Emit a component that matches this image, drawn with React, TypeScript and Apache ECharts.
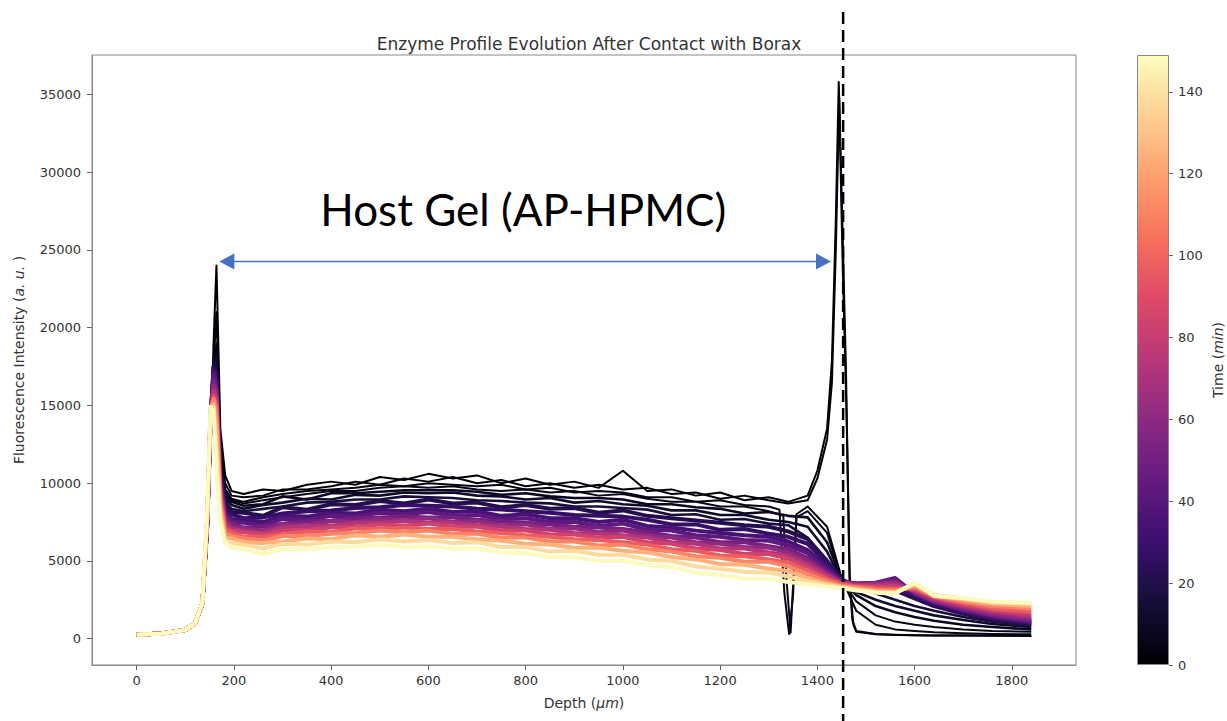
import React, { useEffect, useRef } from 'react';
import * as echarts from 'echarts';

// Depth grid (µm) shared by all profiles
const DEPTH = [0, 50, 100, 120, 135, 145, 152, 158, 164, 172, 182,
  195, 220, 260, 300, 350, 400, 450, 500, 550, 600, 650, 700, 750, 800, 850, 900, 950, 1000, 1050, 1100, 1150, 1200, 1250, 1300, 1340,
  1380, 1420, 1450, 1480, 1520, 1560, 1600, 1640, 1700, 1760, 1840];

// Time of each profile (min)
const TIMES = [0, 2, 4, 6, 9, 12, 16, 21, 27, 34, 42, 51, 61, 72, 84, 97, 111, 125, 138, 148];

const P_T0 = [230,300,520,950,2000,6500,12500,19000,24000,13500,10500, 9500,9300,9600,9500,9900,10100,9900,10400,10200,10600,10300,10500,10000,10300,9900,10100,9700,10800,9500,9600,9200,9400,8900,9100,8800, 9200,13500,28500,500,300,250,220,200,200,190,180];
const P_T2 = [240,310,530,960,2050,6500,12500,17500,21000,12500,10000, 9200,9100,9200,9600,9600,9800,10100,9900,10300,10100,10400,10000,10200,9800,10000,9700,9900,9600,9700,9300,9400,9000,9200,8900,8700, 8900,12800,27000,450,280,240,220,210,200,200,190];
const P_T4 = [250,320,540,980,2100,6800,13000,17500,19000,12000,9600, 9000,8800,9100,9300,9500,9600,9700,9900,9800,10000,9900,9800,9900,9600,9700,9400,9500,9400,9100,9100,8800,8900,8600,8500,800, 8500,7200,3900,1800,900,600,500,420,350,300,280];
const P_T6 = [240,320,540,970,2100,6800,13500,17800,18500,11800,9400, 8900,8700,8900,9100,9300,9500,9500,9700,9800,9700,9800,9600,9500,9600,9400,9500,9200,9300,9000,8800,8800,8500,8500,8200,2400, 8200,6800,3800,2400,1500,1100,900,750,600,500,450];
const P_T9 = [250,330,550,990,2150,7000,13500,18000,18300,11500,9200, 8800,8550,8650,9150,8950,9350,9350,9450,9550,9550,9550,9450,9250,9350,9150,9050,9050,8950,8650,8650,8450,8350,8050,8150,7900, 7800,6200,3800,2800,2100,1700,1400,1150,900,750,600];
const P_T12 = [250,330,550,1000,2200,7000,13800,18000,17800,11300,9000, 8600,8350,8600,8750,9000,8950,9250,9200,9400,9350,9400,9200,9150,8950,9050,8750,8850,8650,8550,8250,8250,7950,7950,7650,7500, 7200,5600,3700,3000,2500,2100,1800,1500,1200,950,750];
const P_T16 = [250,330,550,1000,2200,7100,14000,17800,17500,11000,8800, 8350,8200,8350,8500,8750,8800,8950,8950,9150,9100,9050,8900,8850,8750,8700,8500,8500,8400,8300,7950,8000,7650,7700,7400,7300, 6500,5000,3700,3300,2900,2500,2100,1800,1400,1100,850];
const P_T21 = [250,330,560,1000,2250,7200,14000,17500,17200,10800,8600, 8150,8100,7900,8450,8300,8650,8600,8850,8700,8950,8700,8750,8450,8600,8350,8400,8100,8250,7900,7750,7600,7450,7300,7200,6900, 6400,5000,3800,3400,3300,3100,2600,2100,1600,1250,900];
const P_T27 = [250,330,560,1000,2250,7300,14200,17300,16800,10500,8300, 8000,7750,7800,8050,8200,8250,8400,8450,8600,8550,8500,8350,8300,8200,8100,7950,7900,7850,7650,7350,7350,7000,7050,6750,6550, 6100,4850,3750,3450,3450,3300,2750,2200,1700,1300,1000];
const P_T34 = [250,330,560,1000,2250,7300,14300,17200,16500,10300,8100, 7700,7650,7500,7900,7850,8100,8050,8300,8200,8350,8150,8200,7900,8000,7750,7750,7500,7650,7250,7150,6950,6800,6650,6550,6250, 5700,4600,3700,3500,3550,3500,2850,2300,1800,1400,1050];
const P_T42 = [250,330,560,1000,2250,7400,14300,17000,16300,10100,8000, 7550,7450,7300,7700,7650,7900,7850,8100,8000,8150,7900,7950,7700,7750,7500,7500,7250,7400,7000,6950,6650,6550,6350,6300,6000, 5500,4450,3700,3550,3600,3900,2900,2350,1850,1450,1100];
const P_T51 = [250,330,560,1000,2250,7400,14400,16600,16000,9900,7800, 7450,7150,7200,7400,7550,7600,7750,7800,7850,7800,7800,7650,7550,7450,7350,7200,7150,7050,6850,6600,6500,6200,6200,5950,5750, 5200,4300,3650,3550,3600,3750,2950,2400,1900,1500,1200];
const P_T61 = [250,330,560,1000,2250,7400,14400,16300,15800,9700,7600, 7200,7100,6950,7350,7300,7550,7500,7700,7600,7750,7500,7550,7300,7350,7050,7100,6850,6950,6600,6500,6200,6100,5900,5850,5550, 5000,4200,3650,3500,3550,3650,3000,2450,2000,1600,1300];
const P_T72 = [250,330,560,1000,2250,7500,14500,16000,15500,9500,7400, 7050,6950,6800,7150,7250,7250,7450,7450,7550,7450,7450,7300,7200,7050,7000,6800,6750,6650,6500,6200,6100,5800,5800,5550,5350, 4800,4100,3600,3450,3450,3500,3100,2550,2100,1750,1450];
const P_T84 = [250,330,560,1000,2250,7500,14600,15700,15200,9300,7200, 6950,6850,6700,6950,7000,7150,7200,7350,7250,7400,7200,7200,6950,6950,6700,6700,6500,6550,6200,6100,5800,5700,5450,5450,5150, 4600,3950,3550,3400,3350,3350,3150,2650,2200,1850,1600];
const P_T97 = [250,330,560,1000,2250,7600,14700,15500,15000,9000,7000, 6850,6550,6550,6700,6900,6850,7100,7050,7150,7050,7050,6900,6800,6650,6550,6400,6350,6200,6050,5750,5650,5350,5300,5100,4900, 4400,3850,3500,3350,3250,3200,3250,2700,2300,1950,1750];
const P_T111 = [250,330,560,1000,2250,7700,14800,15400,14500,8700,6800, 6600,6450,6300,6600,6600,6750,6800,6950,6850,6950,6750,6750,6500,6500,6250,6250,6000,6050,5750,5600,5300,5200,4950,4950,4650, 4150,3700,3400,3300,3150,3100,3350,2750,2400,2100,1950];
const P_T125 = [250,330,560,1000,2250,7800,14800,15100,13500,8300,6500, 6450,6200,6150,6250,6450,6400,6650,6550,6700,6550,6550,6400,6300,6100,6050,5850,5850,5650,5550,5250,5100,4800,4750,4500,4350, 3900,3550,3350,3200,3050,3000,3450,2800,2500,2250,2100];
const P_T138 = [250,330,560,1000,2250,8000,14900,14900,12000,7800,6200, 6150,6050,5800,6100,6050,6250,6200,6400,6250,6350,6150,6200,5900,5900,5600,5650,5400,5400,5100,5000,4650,4500,4300,4250,4000, 3700,3450,3300,3150,3000,2950,3550,2800,2600,2350,2250];
const P_T148 = [250,320,560,1000,2300,8200,14900,14600,11000,7500,6200, 5850,5750,5450,5750,5750,5900,5900,6050,5900,5950,5800,5800,5550,5500,5250,5250,5000,5000,4750,4600,4250,4100,3850,3850,3650, 3500,3350,3250,3100,2950,2900,3600,2750,2600,2400,2300];

// Extra [depth, value] points of the early profiles (interface peak and dips)
const EXTRA_T0 = [[1400,10800],[1430,17900],[1438,27000],[1444,35800],[1452,26000],[1459,17000],[1466,4000],[1472,1200]];
const EXTRA_T2 = [[1400,10300],[1430,16500],[1438,25000],[1445,34800],[1453,23000],[1460,14500],[1467,3500],[1474,900]];
const EXTRA_T4 = [[1322,8300],[1332,3000],[1342,300],[1350,2800],[1357,8000]];
const EXTRA_T6 = [[1330,7900],[1337,3600],[1345,400],[1351,4000],[1357,7800]];

const PROFILES = [P_T0, P_T2, P_T4, P_T6, P_T9, P_T12, P_T16, P_T21, P_T27, P_T34, P_T42, P_T51, P_T61, P_T72, P_T84, P_T97, P_T111, P_T125, P_T138, P_T148];
const EXTRAS: number[][][] = [EXTRA_T0, EXTRA_T2, EXTRA_T4, EXTRA_T6];

const X_TICKS = [0, 200, 400, 600, 800, 1000, 1200, 1400, 1600, 1800];
const Y_TICKS = [0, 5000, 10000, 15000, 20000, 25000, 30000, 35000];
const TIME_TICKS = [0, 20, 40, 60, 80, 100, 120, 140];
const TIME_MAX = 149;

// Annotations (data coordinates)
const GEL_LABEL = 'Host Gel (AP-HPMC)';
const GEL_LABEL_POS = [795, 27600];
const ARROW_Y = 24260;
const ARROW_X = [170, 1428];
const BORDER_DEPTH = 1453;

const MAGMA = ['#000004', '#140e36', '#3b0f70', '#641a80', '#8c2981', '#b73779', '#de4968', '#f7705c', '#fe9f6d', '#fecf92', '#fcfdbf'];

function hexToRgb(h: string) {
  return [parseInt(h.slice(1, 3), 16), parseInt(h.slice(3, 5), 16), parseInt(h.slice(5, 7), 16)];
}
function magma(v: number) {
  const x = Math.max(0, Math.min(1, v)) * (MAGMA.length - 1);
  const i = Math.min(MAGMA.length - 2, Math.floor(x));
  const f = x - i;
  const a = hexToRgb(MAGMA[i]);
  const b = hexToRgb(MAGMA[i + 1]);
  const c = a.map((av, k) => Math.round(av + (b[k] - av) * f));
  return `rgb(${c[0]},${c[1]},${c[2]})`;
}

const FONT = 'DejaVu Sans';
const TXT = '#333';
const plain = (v: number) => String(v);

export default function App() {
  const ref = useRef<HTMLDivElement>(null);
  useEffect(() => {
    const chart = echarts.init(ref.current!, null, { renderer: 'svg' });

    const series: any[] = PROFILES.map((vals, idx) => {
      const pts: number[][] = DEPTH.map((d, i) => [d, vals[i]]);
      const extra = EXTRAS[idx] || [];
      const all = pts.concat(extra).sort((p, q) => p[0] - q[0]);
      const t = TIMES[idx];
      return {
        type: 'line',
        name: 't' + t,
        data: all,
        xAxisIndex: 0,
        yAxisIndex: 0,
        symbol: 'none',
        showSymbol: false,
        silent: true,
        lineStyle: { width: t <= 6 ? 2 : t <= 16 ? 2.6 : 4, color: magma(t / TIME_MAX), join: 'round' },
        z: 2,
      };
    });

    series.push({
      type: 'bar',
      xAxisIndex: 1,
      yAxisIndex: 1,
      data: [TIME_MAX],
      barWidth: '100%',
      silent: true,
      itemStyle: {
        color: {
          type: 'linear', x: 0, y: 1, x2: 0, y2: 0,
          colorStops: MAGMA.map((c, i) => ({ offset: i / (MAGMA.length - 1), color: c })),
        },
        borderColor: '#888',
        borderWidth: 1,
      },
    });

    const nameStyle = { fontFamily: FONT, fontSize: 14, color: TXT, rich: { i: { fontStyle: 'italic', fontFamily: FONT, fontSize: 14, color: TXT } } };

    chart.setOption({
      animation: false,
      backgroundColor: '#fff',
      title: {
        text: 'Enzyme Profile Evolution After Contact with Borax',
        left: 584,
        textAlign: 'center',
        top: 30,
        textStyle: { fontFamily: FONT, fontSize: 17, fontWeight: 'normal', color: TXT },
      },
      grid: [
        { left: 92, top: 55, width: 984, height: 610, show: true, borderColor: '#888', borderWidth: 1 },
        { left: 1137, top: 55, width: 32, height: 610 },
      ],
      xAxis: [
        {
          type: 'value', gridIndex: 0, min: -92, max: 1932,
          axisLine: { onZero: false, lineStyle: { color: '#888' } },
          axisTick: { show: true, length: 5, customValues: X_TICKS, lineStyle: { color: '#666' } },
          axisLabel: { customValues: X_TICKS, margin: 9, color: TXT, fontSize: 13, fontFamily: FONT, formatter: plain },
          splitLine: { show: false },
          name: 'Depth ({i|μm})',
          nameLocation: 'middle',
          nameGap: 31,
          nameTextStyle: nameStyle,
        },
        { type: 'category', gridIndex: 1, data: ['t'], show: false },
      ],
      yAxis: [
        {
          type: 'value', gridIndex: 0, min: -1690, max: 37530,
          axisLine: { show: true, onZero: false, lineStyle: { color: '#888' } },
          axisTick: { show: true, length: 5, customValues: Y_TICKS, lineStyle: { color: '#666' } },
          axisLabel: { customValues: Y_TICKS, margin: 11, color: TXT, fontSize: 13, fontFamily: FONT, formatter: plain },
          splitLine: { show: false },
          name: 'Fluorescence Intensity ({i|a. u.} )',
          nameLocation: 'middle',
          nameRotate: 90,
          nameGap: 66,
          nameTextStyle: nameStyle,
        },
        {
          type: 'value', gridIndex: 1, min: 0, max: TIME_MAX, position: 'right',
          axisLine: { show: false },
          axisTick: { show: true, length: 4, customValues: TIME_TICKS, lineStyle: { color: '#666' } },
          axisLabel: { customValues: TIME_TICKS, margin: 9, color: TXT, fontSize: 13, fontFamily: FONT, formatter: plain },
          splitLine: { show: false },
          name: 'Time ({i|min})',
          nameLocation: 'middle',
          nameRotate: 90,
          nameGap: 42,
          nameTextStyle: nameStyle,
        },
      ],
      series,
    });

    const px = (x: number, y: number) => chart.convertToPixel({ gridIndex: 0 }, [x, y]) as number[];
    const lbl = px(GEL_LABEL_POS[0], GEL_LABEL_POS[1]);
    const a1 = px(ARROW_X[0], ARROW_Y);
    const a2 = px(ARROW_X[1], ARROW_Y);
    const bx = px(BORDER_DEPTH, 0)[0];
    const head = 15;
    const hw = 8;
    const blue = '#4472C4';

    chart.setOption({
      graphic: [
        {
          type: 'text', z: 100, x: lbl[0], y: lbl[1],
          style: { text: GEL_LABEL, fontFamily: 'Lato', fontSize: 44, fill: '#000', align: 'center', verticalAlign: 'middle' },
        },
        {
          type: 'line', z: 100,
          shape: { x1: a1[0] + head - 1, y1: a1[1], x2: a2[0] - head + 1, y2: a2[1] },
          style: { stroke: blue, lineWidth: 1.5 },
        },
        {
          type: 'polygon', z: 100,
          shape: { points: [[a1[0], a1[1]], [a1[0] + head, a1[1] - hw], [a1[0] + head, a1[1] + hw]] },
          style: { fill: blue },
        },
        {
          type: 'polygon', z: 100,
          shape: { points: [[a2[0], a2[1]], [a2[0] - head, a2[1] - hw], [a2[0] - head, a2[1] + hw]] },
          style: { fill: blue },
        },
        {
          type: 'line', z: 100,
          shape: { x1: bx, y1: 12, x2: bx, y2: 721 },
          style: { stroke: '#000', lineWidth: 2.5, lineDash: [12, 6] },
        },
      ],
    });

    return () => chart.dispose();
  }, []);
  return <div ref={ref} style={{ position: 'fixed', left: 0, top: 0, width: 1227, height: 721 }} />;
}
